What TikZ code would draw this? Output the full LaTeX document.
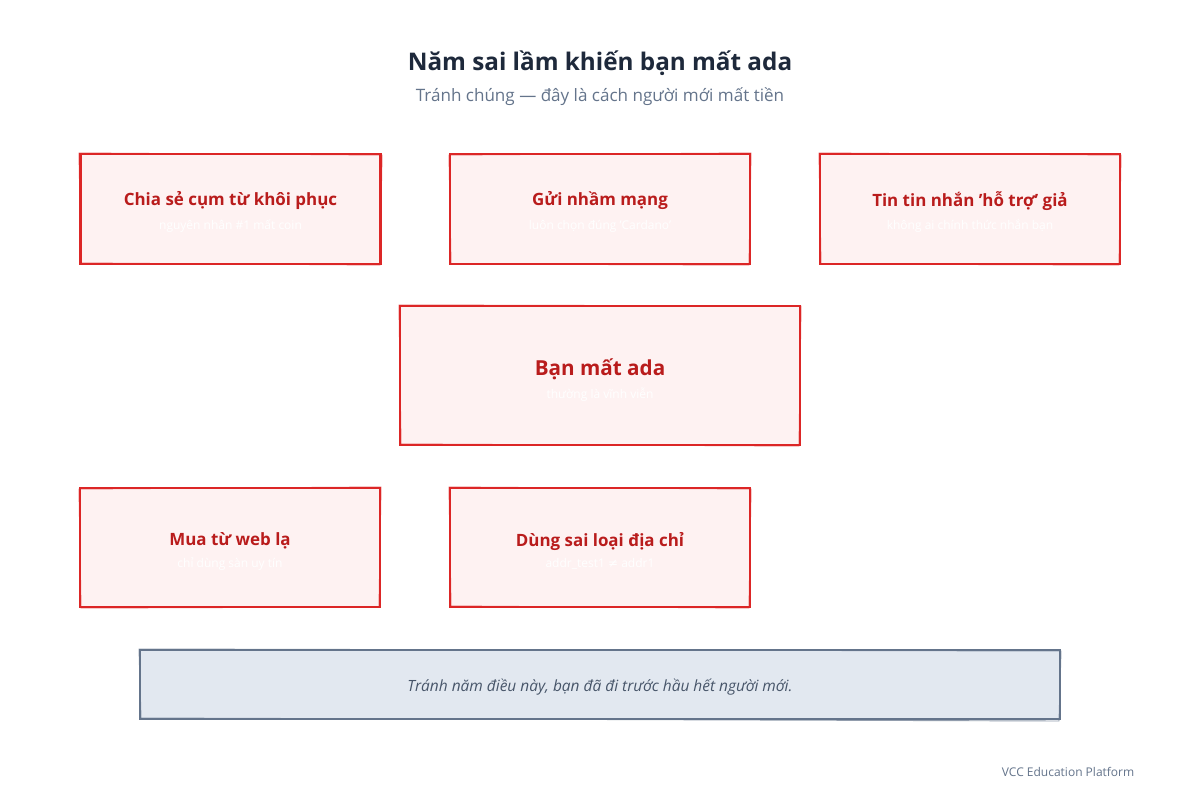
\documentclass[tikz,border=0pt]{standalone}
\usepackage{fontspec}
\setmainfont{Open Sans}
\newfontfamily\symfont{DejaVu Sans}
\definecolor{boxfill}{HTML}{FEF2F2}
\definecolor{boxline}{HTML}{DC2626}
\definecolor{boxtext}{HTML}{B91C1C}
\definecolor{titletext}{HTML}{1E293B}
\definecolor{subtext}{HTML}{64748B}
\definecolor{notefill}{HTML}{E2E8F0}
\definecolor{noteline}{HTML}{64748B}
\definecolor{notetext}{HTML}{475569}
\tikzset{
  mistake/.style={draw=boxline, fill=boxfill, line width=1.6pt, minimum width=225pt, minimum height=82.5pt, inner sep=0pt},
  bigmistake/.style={draw=boxline, fill=boxfill, line width=1.6pt, minimum width=300pt, minimum height=104pt, inner sep=0pt},
  notebox/.style={draw=noteline, fill=notefill, line width=1.6pt, minimum width=690pt, minimum height=52pt, inner sep=0pt},
  mtitle/.style={text=boxtext, font=\bfseries\fontsize{12.7}{15}\selectfont},
  bigtitle/.style={text=boxtext, font=\bfseries\fontsize{15.5}{19}\selectfont},
  msub/.style={text=white, font=\fontsize{9}{11}\selectfont},
  rough/.style={draw=boxline, line width=0.7pt, opacity=0.7},
}
\begin{document}
\begin{tikzpicture}[x=0.75pt,y=-0.75pt]
\useasboundingbox (0,0) rectangle (1200,800);
\fill[white] (0,0) rectangle (1200,800);
% title
\node[text=titletext, font=\bfseries\fontsize{18.2}{23}\selectfont] (title) at (600,63) {Năm sai lầm khiến bạn mất ada};
\node[text=subtext, font=\fontsize{12.8}{15}\selectfont] (subtitle) at (600,97) {Tránh chúng — đây là cách người mới mất tiền};
% boxes
\node[mistake] (b1) at (230.5,209) {};
\draw[rough] (79,153) -- (382,155) -- (380,265) -- (81,263) -- cycle;
\node[mtitle] (b1t) at (230.5,201) {Chia sẻ cụm từ khôi phục};
\node[msub] (b1s) at (230.5,226) {nguyên nhân \#1 mất coin};

\node[mistake] (b2) at (600,209) {};
\draw[rough] (449,155) -- (751,153) -- (749,265) -- (451,264) -- cycle;
\node[mtitle] (b2t) at (600,201) {Gửi nhầm mạng};
\node[msub] (b2s) at (600,226) {luôn chọn đúng {\char"27}Cardano{\char"27}};

\node[mistake] (b3) at (970,209) {};
\draw[rough] (819,153) -- (1121,155) -- (1119,265) -- (821,264) -- cycle;
\node[mtitle] (b3t) at (970,201) {Tin tin nhắn {\char"27}hỗ trợ{\char"27} giả};
\node[msub] (b3s) at (970,226) {không ai chính thức nhắn bạn};

\node[bigmistake] (c) at (600,375.5) {};
\draw[rough] (399,305) -- (801,306) -- (799,446) -- (401,444) -- cycle;
\node[bigtitle] (ct) at (600,369) {Bạn mất ada};
\node[msub] (cs) at (600,395) {thường là vĩnh viễn};

\node[mistake, minimum height=89pt] (b4) at (230,547.5) {};
\draw[rough] (79,489) -- (381,487) -- (379,607) -- (81,608) -- cycle;
\node[mtitle] (b4t) at (230,541) {Mua từ web lạ};
\node[msub] (b4s) at (230,564) {chỉ dùng sàn uy tín};

\node[mistake, minimum height=89pt] (b5) at (600,547.5) {};
\draw[rough] (449,487) -- (751,489) -- (749,608) -- (451,606) -- cycle;
\node[mtitle] (b5t) at (600,541) {Dùng sai loại địa chỉ};
\node[msub] (b5s) at (600,564) {addr\_test1 {\symfont ≠} addr1};

% note
\node[notebox] (note) at (600,684.5) {};
\draw[draw=noteline, line width=0.7pt, opacity=0.7] (139,649) -- (1061,651) -- (1059,721) -- (141,718) -- cycle;
\node[text=notetext, font=\itshape\fontsize{11.6}{14}\selectfont] (notet) at (600,687) {Tránh năm điều này, bạn đã đi trước hầu hết người mới.};
% footer
\node[text=subtext, font=\fontsize{9}{11}\selectfont, anchor=east] (footer) at (1139,772) {VCC Education Platform};
\end{tikzpicture}
\end{document}
